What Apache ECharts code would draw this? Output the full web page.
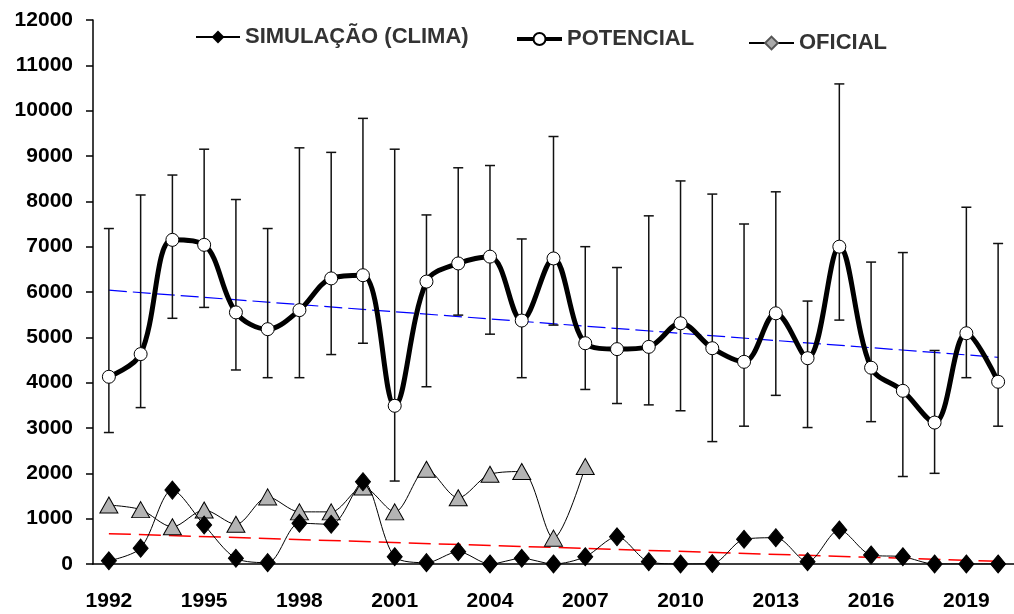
<!DOCTYPE html>
<html>
<head>
<meta charset="utf-8">
<script src="https://cdn.jsdelivr.net/npm/echarts@6/dist/echarts.min.js"></script>
<style>html,body{margin:0;padding:0;background:#fff;}#c{width:1014px;height:614px;}</style>
</head>
<body>
<div id="c"></div>
<script>
const years = ['1992','1993','1994','1995','1996','1997','1998','1999','2000','2001','2002','2003','2004','2005','2006','2007','2008','2009','2010','2011','2012','2013','2014','2015','2016','2017','2018','2019','2020'];
const potencial = [4130,4630,7150,7040,5550,5180,5600,6300,6370,3490,6230,6630,6780,5370,6740,4870,4740,4790,5310,4760,4460,5530,4540,7000,4330,3820,3120,5090,4020];
const potUpper = [7400,8140,8580,9150,8040,7400,9180,9080,9830,9150,7700,8740,8790,7170,9430,7000,6540,7680,8450,8160,7500,8210,5800,10590,6660,6870,4710,7870,7070];
const potLower = [2900,3450,5420,5660,4280,4110,4110,4620,4870,1830,3910,5490,5070,4110,5270,3850,3540,3510,3380,2700,3040,3720,3010,5380,3140,1930,2000,4110,3040];
const simulacao = [70,350,1630,860,125,30,900,875,1815,160,30,270,0,125,0,160,600,50,0,10,545,580,50,750,200,160,0,0,0];
const oficial = [1300,1200,820,1190,875,1480,1150,1150,1700,1150,2090,1460,1980,2040,570,2150];
const blueTrend = [6040, 4560];
const redTrend = [670, 60];
const yTicks = {min: 0, max: 12000, interval: 1000};

const chart = echarts.init(document.getElementById('c'));
const FONT = 'Liberation Sans, Arial, sans-serif';
const legendText = {color: '#333', fontFamily: FONT, fontWeight: 'bold', fontSize: 22};

const errData = years.map((y, i) => [i, potLower[i], potUpper[i]]);

chart.setOption({
  animation: false,
  backgroundColor: '#fff',
  grid: {left: 93, right: 0, top: 20, bottom: 50, containLabel: false},
  legend: [
    {data: ['SIMULAÇÃO (CLIMA)'], left: 195, top: 26, padding: 0, itemWidth: 44, itemHeight: 16, itemGap: 6, textStyle: legendText, lineStyle: {width: 2}},
    {data: ['POTENCIAL'], left: 515, top: 28, padding: 0, itemWidth: 45, itemHeight: 15, itemGap: 6, textStyle: legendText, lineStyle: {width: 4}},
    {data: ['OFICIAL'], left: 748, top: 32, padding: 0, itemWidth: 45, itemHeight: 16, itemGap: 6, textStyle: legendText, lineStyle: {width: 2}}
  ],
  xAxis: {
    type: 'category',
    data: years,
    boundaryGap: true,
    axisLine: {lineStyle: {color: '#000', width: 1.5}},
    axisTick: {interval: 0, length: 8, lineStyle: {color: '#000', width: 1.5}},
    axisLabel: {interval: 2, color: '#000', fontFamily: FONT, fontWeight: 'bold', fontSize: 21, margin: 27},
    splitLine: {show: false}
  },
  yAxis: {
    type: 'value',
    min: yTicks.min, max: yTicks.max, interval: yTicks.interval,
    axisLine: {show: true, lineStyle: {color: '#000', width: 1.5}},
    axisTick: {show: true, length: 7, lineStyle: {color: '#000', width: 1.5}},
    axisLabel: {color: '#000', fontFamily: FONT, fontWeight: 'bold', fontSize: 21, margin: 20, formatter: function (v) { return String(v); }},
    splitLine: {show: false}
  },
  series: [
    {
      name: 'trendBlue', type: 'line', z: 1, silent: true, symbol: 'none',
      data: [[years[0], blueTrend[0]], [years[years.length - 1], blueTrend[1]]],
      lineStyle: {color: '#0000ff', width: 1.2, type: [18, 6]}
    },
    {
      name: 'trendRed', type: 'line', z: 1, silent: true, symbol: 'none',
      data: [[years[0], redTrend[0]], [years[years.length - 1], redTrend[1]]],
      lineStyle: {color: '#ff0000', width: 1.5, type: [22, 8]}
    },
    {
      name: 'errbars', type: 'custom', z: 2, silent: true,
      data: errData,
      renderItem: function (params, api) {
        const x = api.value(0);
        const lo = api.coord([x, api.value(1)]);
        const hi = api.coord([x, api.value(2)]);
        const hw = 5;
        const st = {stroke: '#111', lineWidth: 1.5};
        return {
          type: 'group',
          children: [
            {type: 'line', shape: {x1: lo[0], y1: lo[1], x2: hi[0], y2: hi[1]}, style: st},
            {type: 'line', shape: {x1: hi[0] - hw, y1: hi[1], x2: hi[0] + hw, y2: hi[1]}, style: st},
            {type: 'line', shape: {x1: lo[0] - hw, y1: lo[1], x2: lo[0] + hw, y2: lo[1]}, style: st}
          ]
        };
      }
    },
    {
      name: 'SIMULAÇÃO (CLIMA)', type: 'line', z: 4, smooth: 0.3,
      data: simulacao,
      symbol: 'diamond', symbolSize: [15, 18],
      itemStyle: {color: '#000', borderColor: '#000'},
      lineStyle: {color: '#000', width: 1}
    },
    {
      name: 'OFICIAL', type: 'line', z: 3, data: [],
      symbol: 'diamond', symbolSize: 12,
      itemStyle: {color: '#aaaaaa', borderColor: '#555', borderWidth: 1},
      lineStyle: {color: '#000', width: 2}
    },
    {
      name: 'OFICIAL', type: 'line', z: 3, smooth: 0.3,
      data: oficial,
      symbol: 'triangle', symbolSize: [18, 16],
      itemStyle: {color: '#b4b4b4', borderColor: '#000', borderWidth: 1},
      lineStyle: {color: '#000', width: 1}
    },
    {
      name: 'POTENCIAL', type: 'line', z: 5, smooth: 0.35,
      data: potencial,
      symbol: 'circle', symbolSize: 13,
      itemStyle: {color: '#fff', borderColor: '#000', borderWidth: 1},
      lineStyle: {color: '#000', width: 5}
    }
  ]
});
</script>
</body>
</html>
